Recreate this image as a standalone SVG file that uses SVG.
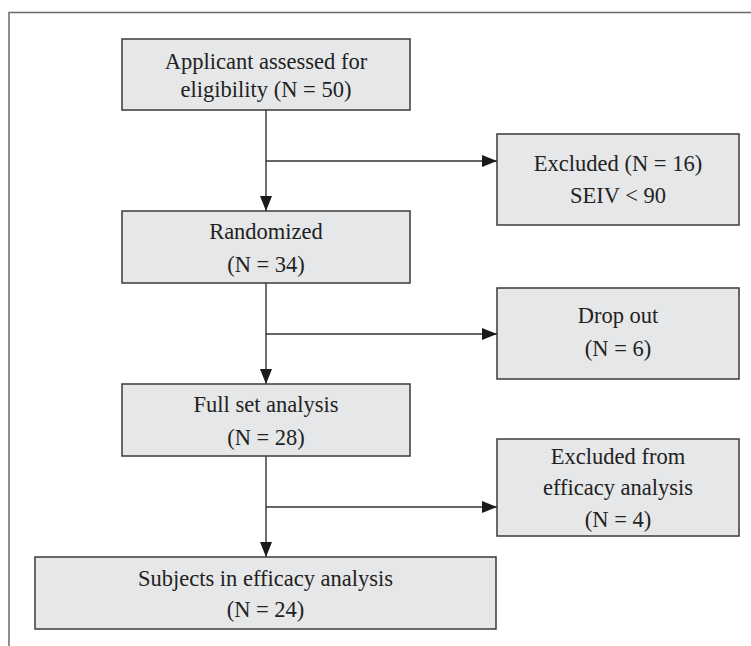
<svg xmlns="http://www.w3.org/2000/svg" width="751" height="646" viewBox="0 0 751 646">
<style>
.box{fill:#e6e7e8;stroke:#3a3a3a;stroke-width:1.5}
.frame{fill:none;stroke:#6a6a6a;stroke-width:1.5}
.conn{fill:none;stroke:#333;stroke-width:1.4}
text{font-family:"Liberation Serif","Times New Roman",serif;font-size:22.5px;fill:#222;text-anchor:middle}
</style>
<defs>
<marker id="arr" viewBox="0 0 15 12" refX="15" refY="6" markerWidth="15" markerHeight="12" markerUnits="userSpaceOnUse" orient="auto">
<path d="M0,0 L15,6 L0,12 Z" fill="#1a1a1a"/>
</marker>
</defs>
<path class="frame" d="M9,646 V12.5 H751"/>
<g id="connectors">
<path class="conn" d="M266,110 V211" marker-end="url(#arr)"/>
<path class="conn" d="M266,161 H497" marker-end="url(#arr)"/>
<path class="conn" d="M266,283 V384" marker-end="url(#arr)"/>
<path class="conn" d="M266,334 H497" marker-end="url(#arr)"/>
<path class="conn" d="M266,456 V557" marker-end="url(#arr)"/>
<path class="conn" d="M266,507 H497" marker-end="url(#arr)"/>
</g>
<g id="n1">
<rect class="box" x="122" y="39" width="288" height="71"/>
<text x="266" y="69">Applicant assessed for</text>
<text x="266" y="97">eligibility (N = 50)</text>
</g>
<g id="n2">
<rect class="box" x="497" y="134" width="242" height="91"/>
<text x="618" y="171">Excluded (N = 16)</text>
<text x="618" y="203">SEIV &lt; 90</text>
</g>
<g id="n3">
<rect class="box" x="122" y="211" width="288" height="72"/>
<text x="266" y="239">Randomized</text>
<text x="266" y="272">(N = 34)</text>
</g>
<g id="n4">
<rect class="box" x="497" y="288" width="242" height="91"/>
<text x="618" y="323">Drop out</text>
<text x="618" y="356">(N = 6)</text>
</g>
<g id="n5">
<rect class="box" x="122" y="384" width="288" height="72"/>
<text x="266" y="412">Full set analysis</text>
<text x="266" y="445">(N = 28)</text>
</g>
<g id="n6">
<rect class="box" x="497" y="439" width="242" height="97"/>
<text x="618" y="464">Excluded from</text>
<text x="618" y="495">efficacy analysis</text>
<text x="618" y="527">(N = 4)</text>
</g>
<g id="n7">
<rect class="box" x="35" y="557" width="461" height="72"/>
<text x="265.5" y="586">Subjects in efficacy analysis</text>
<text x="265.5" y="617">(N = 24)</text>
</g>
</svg>
